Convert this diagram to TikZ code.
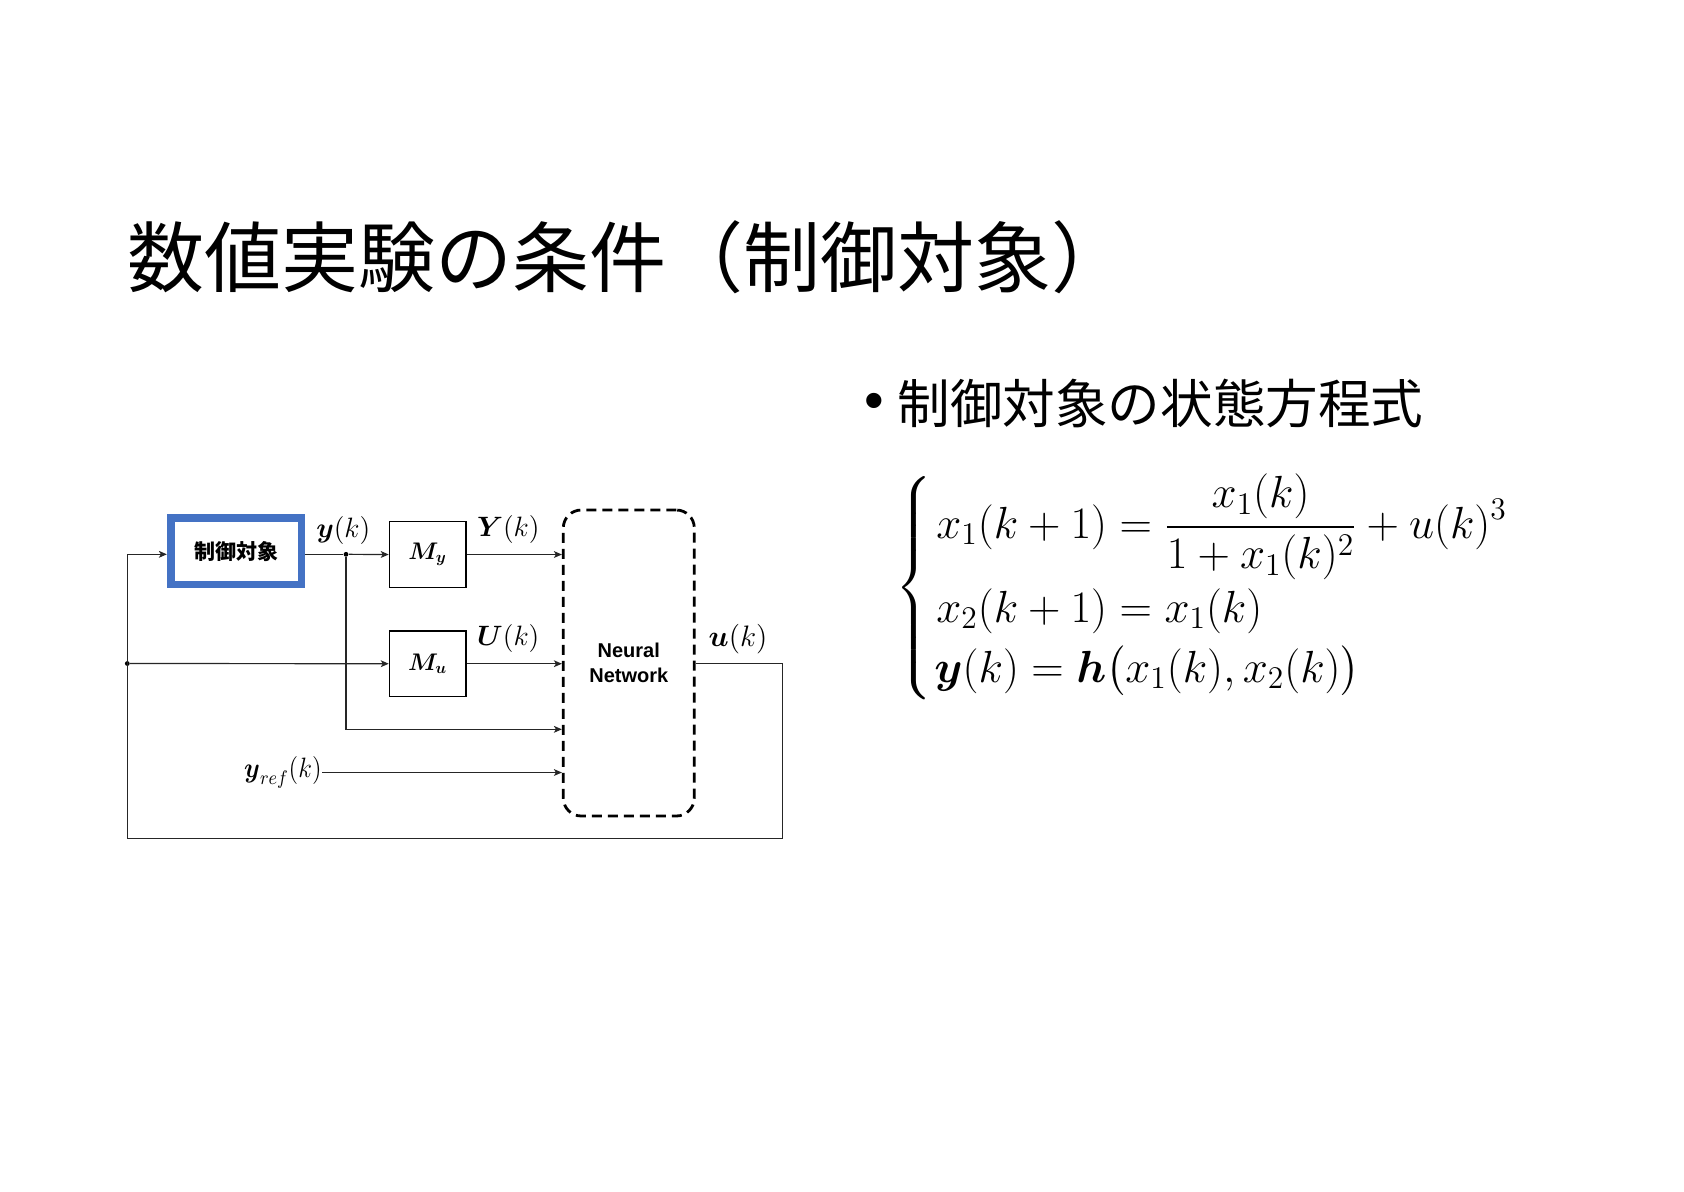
\RequirePackage{fix-cm}
\documentclass[tikz,border=0pt]{standalone}
\usepackage{amsmath}
\usepackage{fontspec}
\newfontfamily\cjk{Noto Sans CJK JP}
\newfontfamily\bulfont{Liberation Sans}
\setsansfont{Liberation Sans}
\usetikzlibrary{arrows.meta}
\definecolor{plantblue}{HTML}{4472C4}
\begin{document}
\begin{tikzpicture}[x=0.5pt,y=-0.5pt,
  sig/.style={line width=0.6pt,black!85},
  arr/.style={sig,-{Stealth[length=4pt,width=3.4pt,inset=1pt]}},
  blk/.style={draw,line width=0.6pt,minimum width=38.35pt,minimum height=32.8pt,inner sep=0pt,font=\fontsize{12}{13}\selectfont},
  lbl/.style={inner sep=0pt,font=\fontsize{14}{16}\selectfont},
  dot/.style={circle,fill,inner sep=0pt,minimum size=2.4pt},
  plain/.style={inner sep=0pt},
  eqf/.style={plain,anchor=base west,font=\fontsize{22.5}{26}\selectfont}]
\fill[white] (0,0) rectangle (1684,1191);
\useasboundingbox (0,0) rectangle (1684,1191);
% title
\node[plain,anchor=base west,font=\cjk\fontsize{38.5}{40}\selectfont] (title) at (127,286) {数値実験の条件（制御対象）};
% bullet line
\node[plain,font=\bulfont\fontsize{28}{30}\selectfont] (bul) at (874.5,406) {•};
\node[plain,anchor=base west,font=\cjk\fontsize{26.3}{28}\selectfont] (sub) at (897,423) {制御対象の状態方程式};
% equations
\node[plain] (brace) at (915,588) {\makebox[0pt]{\fontsize{22}{26}\selectfont$\delimiterfactor=1000 \delimitershortfall=0pt \left\{\vrule height 48pt depth 48pt width 0pt\right.$}};
\node[eqf] (eq1) at (936,538) {$\displaystyle x_1(k+1)=\frac{x_1(k)}{1+x_1(k)^2}+u(k)^3$};
\node[eqf] (eq2) at (936,622) {$x_2(k+1)=x_1(k)$};
\node[eqf] (eq3) at (934,682) {$\boldsymbol{y}(k)=\boldsymbol{h}\bigl(x_1(k),x_2(k)\bigr)$};
% diagram blocks
\node[draw=plantblue,line width=3.8pt,minimum width=65.3pt,minimum height=33.25pt,inner sep=0pt,font=\cjk\bfseries\fontsize{10.5}{12}\selectfont] (plant) at (236,551.3) {制御対象};
\node[blk] (My) at (427.7,554.5) {$\boldsymbol{M_y}$};
\node[blk] (Mu) at (427.7,663.7) {$\boldsymbol{M_u}$};
\node[draw,line width=1.4pt,dash pattern=on 5pt off 3pt,rounded corners=9pt,minimum width=65.5pt,minimum height=153pt,inner sep=0pt,align=center,font=\sffamily\bfseries\fontsize{10}{12.5}\selectfont] (nn) at (628.8,663) {Neural\\Network};
% labels
\node[lbl] (ly) at (343.3,530.5) {$\boldsymbol{y}(k)$};
\node[lbl] (lY) at (508.3,529) {$\boldsymbol{Y}(k)$};
\node[lbl] (lU) at (508.3,638.3) {$\boldsymbol{U}(k)$};
\node[lbl,font=\fontsize{14.8}{16}\selectfont] (lu) at (738,639) {$\boldsymbol{u}(k)$};
\node[lbl,anchor=east] (lref) at (322,772.5) {\scalebox{0.9}[1]{$\boldsymbol{y}_{ref}(k)$}};
% junctions
\node[dot] (d1) at (346,554.3) {};
\node[dot] (d2) at (127.3,663.5) {};
\coordinate (c1) at (782.7,663.3);
\coordinate (c2) at (782.7,838.3);
\coordinate (c3) at (127.3,838.3);
\coordinate (c4) at (127.3,554.3);
\coordinate (c5) at (346,729.3);
% connectors
\draw[sig] (plant.east |- d1) -- (d1);
\draw[arr] (d1) -- (My.west);
\draw[arr] (My.east) -- (nn.west |- My.east);
\draw[arr] (d2) -- (Mu.west);
\draw[arr] (Mu.east) -- (nn.west |- Mu.east);
\draw[arr] (d1) -- (c5) -- (nn.west |- c5);
\draw[arr] (lref.east) -- (nn.west |- lref.east);
\draw[arr] (nn.east |- c1) -- (c1) -- (c2) -- (c3) -- (c4) -- (plant.west |- c4);
\end{tikzpicture}
\end{document}
